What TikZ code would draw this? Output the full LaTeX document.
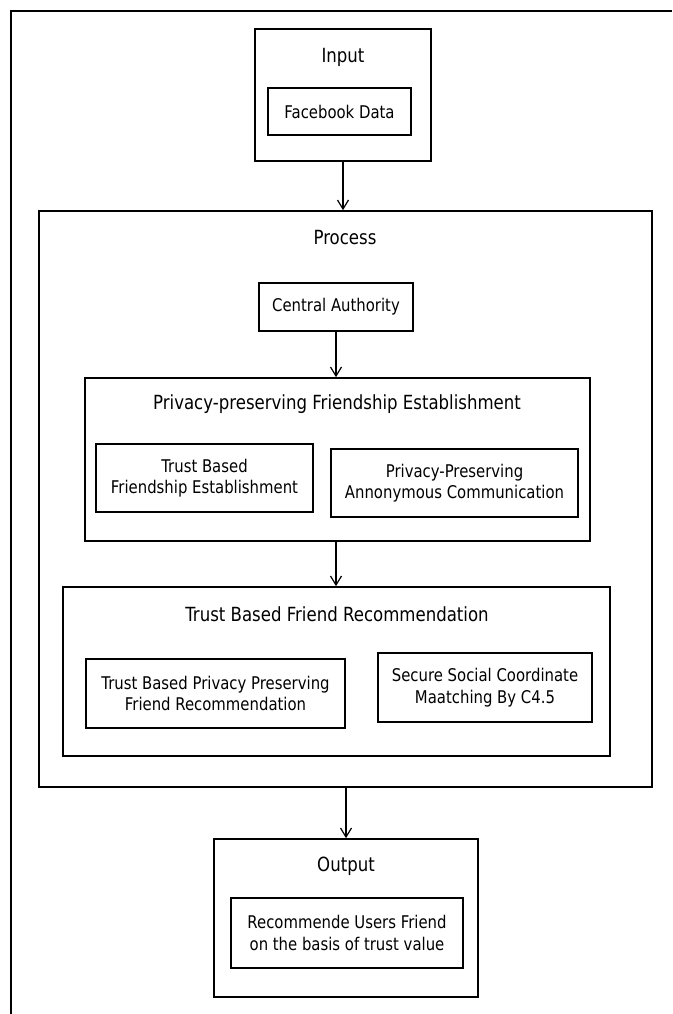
\documentclass[tikz,border=0pt]{standalone}
\usepackage{fontspec}
\setmainfont{DejaVu Sans}[FakeStretch=0.85]
\usetikzlibrary{arrows.meta}
\begin{document}
\begin{tikzpicture}[x=1pt,y=-1pt,
  frame/.style={draw, line width=1.7pt, inner sep=0pt, align=center,
    font=\fontsize{17.5}{21.5}\selectfont},
  ttl/.style={inner sep=0pt, font=\fontsize{19.5}{23}\selectfont},
  arr/.style={-{Straight Barb[length=9pt,width=11pt,line width=1.2pt]}, line width=1.7pt}]
\useasboundingbox (0,0) rectangle (672,1014);
\draw[line width=1.7pt] (11,1014) -- (11,11) -- (672,11);
% Input
\node[frame, minimum width=176, minimum height=132] (input) at (343,95) {};
\node[ttl] (inputt) at (343,57) {Input};
\node[frame, minimum width=143, minimum height=47] (fb) at (339.5,111.5) {Facebook Data};
% Process
\node[frame, minimum width=613, minimum height=576] (process) at (345.5,499) {};
\node[ttl] (processt) at (345,238) {Process};
\node[frame, minimum width=154, minimum height=48] (ca) at (336,307) {Central Authority};
\node[frame, minimum width=505, minimum height=163] (ppfe) at (337.5,459.5) {};
\node[ttl] (ppfet) at (337,404) {Privacy-preserving Friendship Establishment};
\node[frame, minimum width=217, minimum height=68] (tbf) at (204.5,478) {Trust Based\\Friendship Establishment};
\node[frame, minimum width=247, minimum height=68] (ppac) at (454.5,483) {Privacy-Preserving\\Annonymous Communication};
\node[frame, minimum width=547, minimum height=169] (tbfr) at (336.5,671.5) {};
\node[ttl] (tbfrt) at (337,614) {Trust Based Friend Recommendation};
\node[frame, minimum width=259, minimum height=69] (tbpp) at (215.5,693.5) {Trust Based Privacy Preserving\\Friend Recommendation};
\node[frame, minimum width=214, minimum height=69] (ssc) at (485,687.5) {Secure Social Coordinate\\Maatching By C4.5};
% Output
\node[frame, minimum width=264, minimum height=158] (output) at (346,918) {};
\node[ttl] (outputt) at (346,866) {Output};
\node[frame, minimum width=232, minimum height=70] (rec) at (347,933) {Recommende Users Friend\\on the basis of trust value};
% Arrows
\draw[arr] (input.south) -- (input.south |- process.north);
\draw[arr] (ca.south) -- (ca.south |- ppfe.north);
\draw[arr] (ca.south |- ppfe.south) -- (ca.south |- tbfr.north);
\draw[arr] (output.north |- process.south) -- (output.north);
\end{tikzpicture}
\end{document}
